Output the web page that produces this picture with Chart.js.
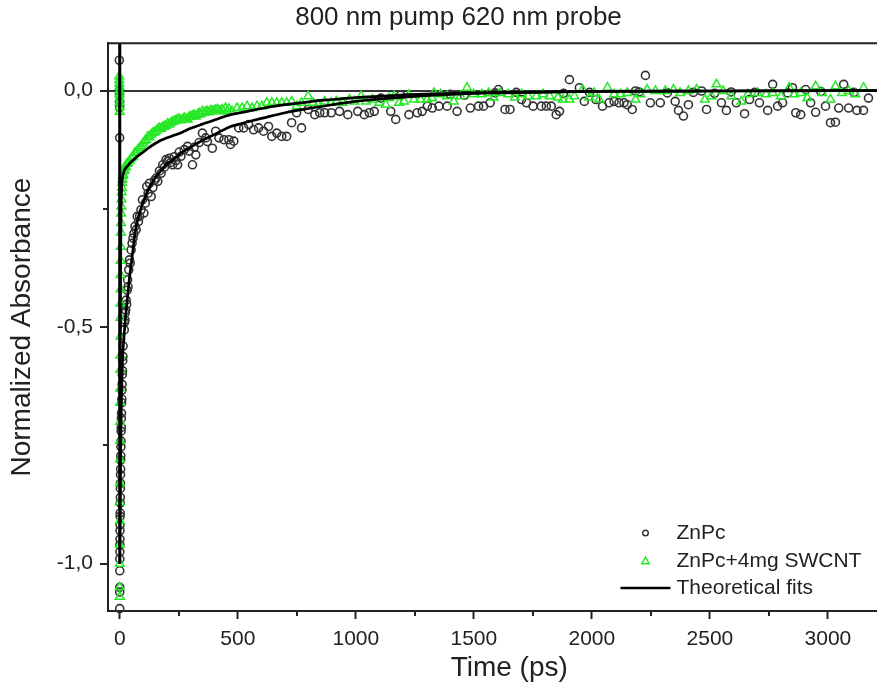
<!DOCTYPE html>
<html>
<head>
<meta charset="utf-8">
<script src="https://cdn.jsdelivr.net/npm/chart.js@4/dist/chart.umd.min.js"></script>
<style>
  html, body { margin: 0; padding: 0; overflow: hidden; background: #fff; }
  #wrap { width: 917px; height: 691px; }
</style>
</head>
<body>
<div id="wrap"><canvas id="chart" width="917" height="691"></canvas></div>
<script>
// ZnPc (circles)
const znpcTime = [
  -2, -1.6, -1.3, -1, -0.8, -0.6, -0.4, -0.3, -0.2, -0.1,
  0, 0.2, 0.4, 0.7, 0.9, 1.1, 1.4, 1.6, 1.9, 2.2,
  2.5, 2.8, 3.1, 3.5, 3.8, 4.2, 4.7, 5.1, 5.6, 6.1,
  6.6, 7.2, 7.8, 8.5, 9.2, 9.9, 10.7, 11.5, 12.3, 13.2,
  14.1, 19, 20, 22, 23, 25, 27, 29, 31, 33,
  35, 38, 41, 44, 48, 52, 56, 60, 64, 69,
  74, 79, 84, 90, 96, 102, 108, 114, 120, 126,
  133, 140, 147, 154, 161, 168, 175, 182, 189, 196,
  203, 210, 217, 224, 231, 238, 245, 252, 259, 273,
  287, 294, 308, 315, 322, 336, 350, 364, 371, 392,
  406, 420, 441, 462, 469, 483, 504, 525, 546, 567,
  588, 609, 630, 644, 665, 686, 707, 728, 749, 770,
  798, 826, 847, 868, 896, 931, 966, 1008, 1036, 1057,
  1078, 1106, 1148, 1169, 1190, 1225, 1260, 1281, 1303, 1324,
  1352, 1387, 1400, 1429, 1460, 1485, 1520, 1541, 1569, 1590,
  1604, 1632, 1653, 1680, 1702, 1723, 1751, 1786, 1807, 1828,
  1849, 1863, 1880, 1905, 1947, 1968, 1990, 2017, 2045, 2073,
  2094, 2115, 2136, 2150, 2171, 2185, 2200, 2227, 2248, 2290,
  2320, 2353, 2367, 2388, 2409, 2430, 2465, 2486, 2520, 2549,
  2570, 2590, 2612, 2647, 2668, 2690, 2710, 2745, 2766, 2787,
  2808, 2830, 2850, 2864, 2885, 2906, 2927, 2948, 2970, 2990,
  3011, 3032, 3046, 3067, 3088, 3110, 3123, 3151, 3172
];
const znpcAbs = [
  0.064, 0.0, -0.01, -0.025, -0.036, -0.10, -1.095, -1.06, -1.05, -1.015,
  -0.99, -0.975, -0.96, -0.948, -0.93, -0.918, -0.9, -0.893, -0.872, -0.86,
  -0.841, -0.83, -0.812, -0.8, -0.781, -0.772, -0.753, -0.741, -0.72, -0.712,
  -0.693, -0.682, -0.66, -0.652, -0.633, -0.621, -0.6, -0.592, -0.571, -0.562,
  -0.54, -0.506, -0.49, -0.485, -0.47, -0.464, -0.443, -0.452, -0.422, -0.40,
  -0.415, -0.379, -0.358, -0.365, -0.337, -0.323, -0.312, -0.302, -0.287, -0.294,
  -0.266, -0.277, -0.266, -0.252, -0.231, -0.259, -0.238, -0.203, -0.217, -0.196,
  -0.224, -0.205, -0.19, -0.185, -0.192, -0.17, -0.175, -0.157, -0.162, -0.146,
  -0.15, -0.143, -0.152, -0.157, -0.14, -0.148, -0.157, -0.13, -0.139, -0.125,
  -0.118, -0.128, -0.157, -0.12, -0.136, -0.11, -0.090, -0.1, -0.108, -0.122,
  -0.086, -0.100, -0.104, -0.104, -0.114, -0.107, -0.079, -0.079, -0.072, -0.083,
  -0.079, -0.086, -0.076, -0.097, -0.090, -0.097, -0.097, -0.068, -0.047, -0.079,
  -0.040, -0.051, -0.047, -0.047, -0.047, -0.044, -0.051, -0.044, -0.051, -0.047,
  -0.044, -0.016, -0.044, -0.061, -0.010, -0.051, -0.047, -0.044, -0.033, -0.037,
  -0.033, -0.033, -0.008, -0.044, -0.010, -0.037, -0.033, -0.033, -0.026, -0.005,
  0.002, -0.040, -0.040, -0.004, -0.019, -0.026, -0.033, -0.033, -0.033, -0.033,
  -0.051, -0.044, -0.006, 0.023, 0.006, -0.023, -0.004, -0.019, -0.033, -0.026,
  -0.023, -0.026, -0.026, -0.030, -0.040, -0.001, -0.003, 0.032, -0.026, -0.026,
  -0.005, -0.023, -0.042, -0.054, -0.030, -0.004, -0.001, -0.040, -0.006, -0.026,
  -0.042, -0.003, -0.026, -0.049, -0.019, -0.004, -0.026, -0.042, 0.013, -0.033,
  -0.026, -0.005, 0.006, -0.047, -0.051, 0.002, -0.026, -0.046, -0.002, -0.033,
  -0.068, -0.067, -0.037, 0.013, -0.037, -0.004, -0.042, -0.042, -0.016
];

// ZnPc+4mg SWCNT (triangles)
const swcntTime = [
  -2.5, -2.2, -1.9, -1.6, -1.3, -1, -0.8, -0.6, -0.4, -0.2,
  -0.1, 0, 0.1, 0.3, 0.5, 0.7, 0.9, 1.1, 1.3, 1.5,
  1.7, 1.9, 2.1, 2.3, 2.6, 2.9, 3.2, 3.5, 3.8, 4.2,
  4.6, 5, 5.5, 6, 6.6, 7.2, 8, 9, 10, 11.5,
  13, 15, 17.5, 20, 23, 26, 30, 35, 42, 49,
  56, 63, 70, 77, 84, 91, 98, 105, 112, 119,
  126, 133, 140, 147, 154, 161, 168, 175, 182, 189,
  196, 203, 210, 217, 224, 231, 238, 245, 252, 259,
  266, 273, 280, 287, 294, 301, 308, 315, 322, 329,
  336, 343, 350, 357, 364, 371, 378, 385, 392, 399,
  406, 413, 420, 427, 434, 448, 455, 462, 476, 497,
  518, 539, 560, 581, 602, 623, 644, 665, 686, 707,
  728, 749, 770, 798, 819, 840, 868, 896, 917, 945,
  973, 994, 1022, 1043, 1071, 1099, 1127, 1141, 1162, 1183,
  1204, 1225, 1246, 1274, 1302, 1323, 1331, 1359, 1387, 1415,
  1443, 1471, 1499, 1534, 1562, 1583, 1611, 1646, 1674, 1702,
  1730, 1765, 1793, 1821, 1856, 1877, 1905, 1926, 1961, 1989,
  2010, 2031, 2066, 2094, 2122, 2150, 2185, 2206, 2234, 2269,
  2311, 2346, 2374, 2409, 2444, 2479, 2507, 2528, 2556, 2591,
  2633, 2661, 2703, 2738, 2766, 2801, 2836, 2857, 2885, 2913,
  2948, 2976, 3011, 3032, 3060, 3088, 3116, 3151
];
const swcntAbs = [
  0.03, 0.022, 0.015, 0.008, 0.0, -0.008, -0.016, -0.025, -0.035, -0.045,
  -1.05, -1.07, -1.0, -0.96, -0.91, -0.87, -0.83, -0.78, -0.74, -0.70,
  -0.66, -0.63, -0.59, -0.56, -0.52, -0.48, -0.45, -0.42, -0.39, -0.36,
  -0.33, -0.30, -0.28, -0.26, -0.245, -0.23, -0.215, -0.205, -0.195, -0.188,
  -0.18, -0.178, -0.17, -0.168, -0.16, -0.162, -0.155, -0.153, -0.148, -0.143,
  -0.14, -0.132, -0.13, -0.125, -0.121, -0.118, -0.112, -0.107, -0.104, -0.097,
  -0.099, -0.093, -0.09, -0.088, -0.086, -0.082, -0.079, -0.081, -0.077, -0.076,
  -0.074, -0.07, -0.072, -0.068, -0.066, -0.065, -0.063, -0.061, -0.06, -0.063,
  -0.061, -0.058, -0.06, -0.061, -0.056, -0.055, -0.054, -0.052, -0.055, -0.051,
  -0.048, -0.05, -0.044, -0.047, -0.045, -0.044, -0.046, -0.042, -0.044, -0.043,
  -0.041, -0.040, -0.042, -0.044, -0.040, -0.037, -0.044, -0.039, -0.044, -0.037,
  -0.037, -0.033, -0.037, -0.033, -0.033, -0.026, -0.026, -0.026, -0.026, -0.026,
  -0.023, -0.033, -0.026, -0.012, -0.026, -0.030, -0.023, -0.026, -0.023, -0.026,
  -0.019, -0.023, -0.012, -0.023, -0.019, -0.026, -0.030, -0.016, -0.012, -0.026,
  -0.023, -0.009, -0.019, -0.019, -0.019, -0.016, -0.005, -0.008, -0.012, -0.023,
  -0.012, 0.006, -0.008, -0.008, -0.005, -0.015, -0.005, -0.008, -0.015, -0.008,
  -0.012, -0.012, -0.008, -0.012, -0.015, -0.019, -0.019, -0.012, 0.002, -0.015,
  -0.005, -0.019, 0.006, -0.008, -0.008, -0.005, -0.019, -0.008, 0.002, -0.001,
  -0.001, 0.002, -0.005, -0.001, 0.002, -0.019, -0.012, 0.013, -0.001, -0.012,
  -0.023, -0.008, -0.005, -0.008, -0.005, -0.012, 0.006, -0.008, -0.005, -0.016,
  0.009, -0.005, -0.019, 0.009, -0.005, -0.001, -0.008, 0.006
];

// theoretical fits
const fitTime = [
  0, 0.05, 1, 2, 3, 4, 5, 7, 10, 13,
  17, 21, 25, 30, 35, 40, 50, 55, 65, 80,
  100, 120, 150, 170, 200, 217, 265, 300, 350, 380,
  420, 470, 500, 560, 600, 700, 800, 850, 900, 1000,
  1150, 1200, 1330, 1500, 1600, 2000, 2500, 3350
];
const znpcFit = [
  0.1, -1.0, -0.93, -0.86, -0.80, -0.75, -0.71, -0.65, -0.59, -0.555,
  -0.525, -0.50, -0.475, -0.45, -0.425, -0.40, -0.36, -0.34, -0.30, -0.265,
  -0.235, -0.21, -0.185, -0.172, -0.155, -0.150, -0.13, -0.12, -0.105, -0.098,
  -0.088, -0.076, -0.072, -0.064, -0.059, -0.047, -0.038, -0.034, -0.030, -0.023,
  -0.016, -0.014, -0.010, -0.006, -0.005, -0.002, -0.001, 0
];
const swcntFit = [
  0.1, -1.0, -0.75, -0.55, -0.42, -0.33, -0.27, -0.22, -0.19, -0.18,
  -0.172, -0.167, -0.164, -0.161, -0.158, -0.155, -0.150, -0.148, -0.143, -0.137,
  -0.130, -0.122, -0.112, -0.106, -0.100, -0.097, -0.088, -0.080, -0.071, -0.066,
  -0.059, -0.051, -0.048, -0.042, -0.038, -0.030, -0.024, -0.021, -0.019, -0.015,
  -0.011, -0.009, -0.007, -0.005, -0.004, -0.002, -0.001, 0
];

const xTicks = [0, 500, 1000, 1500, 2000, 2500, 3000];
const xMinorTicks = [250, 750, 1250, 1750, 2250, 2750, 3250];
const yTicks = [-1.0, -0.5, 0.0];
const yMinorTicks = [-0.75, -0.25];

const pts = (xs, ys) => xs.map((x, i) => ({ x: x, y: ys[i] }));

const INK = '#222';
const CIRCLE = '#333';
const GREEN = '#27e827';

Chart.defaults.font.family = '"Liberation Sans", Arial, sans-serif';
Chart.defaults.color = INK;

// top frame line, minor ticks and the in-plot legend
const extras = {
  id: 'extras',
  afterDraw(chart) {
    const { ctx, chartArea: a, scales } = chart;
    ctx.save();
    ctx.strokeStyle = INK;
    ctx.lineWidth = 2;
    ctx.beginPath();
    ctx.moveTo(a.left - 1, a.top);
    ctx.lineTo(a.right, a.top);
    xMinorTicks.forEach(v => {
      const px = Math.round(scales.x.getPixelForValue(v));
      ctx.moveTo(px, a.bottom);
      ctx.lineTo(px, a.bottom + 5);
    });
    yMinorTicks.forEach(v => {
      const py = Math.round(scales.y.getPixelForValue(v));
      ctx.moveTo(a.left, py);
      ctx.lineTo(a.left - 5, py);
    });
    ctx.stroke();

    const mx = a.right - 265;
    const tx = a.right - 234;
    const rows = [a.bottom - 78, a.bottom - 50, a.bottom - 23];
    ctx.font = '21px "Liberation Sans", Arial, sans-serif';
    ctx.fillStyle = INK;
    ctx.textBaseline = 'middle';
    ctx.textAlign = 'left';

    ctx.lineWidth = 1.4;
    ctx.strokeStyle = CIRCLE;
    ctx.beginPath();
    ctx.arc(mx, rows[0], 2.8, 0, Math.PI * 2);
    ctx.stroke();
    ctx.fillText(chart.data.datasets[0].label, tx, rows[0]);

    ctx.strokeStyle = GREEN;
    ctx.beginPath();
    ctx.moveTo(mx, rows[1] - 3.8);
    ctx.lineTo(mx + 3.8, rows[1] + 2.8);
    ctx.lineTo(mx - 3.8, rows[1] + 2.8);
    ctx.closePath();
    ctx.stroke();
    ctx.fillText(chart.data.datasets[1].label, tx, rows[1]);

    ctx.strokeStyle = '#000';
    ctx.lineWidth = 2.5;
    ctx.beginPath();
    ctx.moveTo(a.right - 290, rows[2]);
    ctx.lineTo(a.right - 240, rows[2]);
    ctx.stroke();
    ctx.fillText(chart.data.datasets[2].label, tx, rows[2]);
    ctx.restore();
  }
};

new Chart(document.getElementById('chart'), {
  type: 'scatter',
  data: {
    datasets: [
      {
        label: 'ZnPc',
        data: pts(znpcTime, znpcAbs),
        pointStyle: 'circle',
        pointRadius: 4,
        pointBorderWidth: 1.6,
        borderColor: CIRCLE,
        backgroundColor: 'rgba(0,0,0,0)',
        clip: false,
        order: 3
      },
      {
        label: 'ZnPc+4mg SWCNT',
        data: pts(swcntTime, swcntAbs),
        pointStyle: 'triangle',
        pointRadius: 5,
        pointBorderWidth: 1.5,
        borderColor: GREEN,
        backgroundColor: 'rgba(0,0,0,0)',
        clip: false,
        order: 2
      },
      {
        label: 'Theoretical fits',
        data: pts(fitTime, znpcFit),
        showLine: true,
        pointRadius: 0,
        borderColor: '#000',
        borderWidth: 2.7,
        cubicInterpolationMode: 'monotone',
        order: 1
      },
      {
        label: '',
        data: pts(fitTime, swcntFit),
        showLine: true,
        pointRadius: 0,
        borderColor: '#000',
        borderWidth: 2.7,
        cubicInterpolationMode: 'monotone',
        order: 1
      }
    ]
  },
  options: {
    responsive: false,
    animation: false,
    devicePixelRatio: 1,
    layout: { padding: 0 },
    plugins: {
      legend: { display: false },
      tooltip: { enabled: false },
      title: {
        display: true,
        text: '800 nm pump 620 nm probe',
        color: INK,
        font: { size: 26, weight: 'normal' },
        padding: { top: 2, bottom: 10 }
      }
    },
    scales: {
      x: {
        type: 'linear',
        min: -50,
        max: 3350,
        afterBuildTicks: s => { s.ticks = xTicks.map(v => ({ value: v })); },
        afterFit: s => { s.height = 80; },
        ticks: { font: { size: 21 }, color: INK, padding: 8, maxRotation: 0, callback: v => String(v) },
        grid: { drawOnChartArea: false, tickLength: 8, tickColor: INK, tickWidth: 2 },
        border: { color: INK, width: 2 },
        title: { display: true, text: 'Time (ps)', color: INK, font: { size: 28 }, padding: { top: 0, bottom: 6 } }
      },
      y: {
        type: 'linear',
        min: -1.1,
        max: 0.1,
        afterBuildTicks: s => { s.ticks = yTicks.map(v => ({ value: v })); },
        afterFit: s => { s.width = 108; },
        ticks: {
          font: { size: 21 }, color: INK, padding: 7,
          callback: v => v.toFixed(1).replace('.', ',')
        },
        grid: {
          tickLength: 8,
          tickColor: INK,
          tickWidth: 2,
          lineWidth: 2,
          color: c => (c.tick && c.tick.value === 0 ? '#333' : 'rgba(0,0,0,0)')
        },
        border: { color: INK, width: 2 },
        title: { display: true, text: 'Normalized Absorbance', color: INK, font: { size: 28 }, padding: { top: 5, bottom: 0 } }
      }
    }
  },
  plugins: [extras]
});
</script>
</body>
</html>
